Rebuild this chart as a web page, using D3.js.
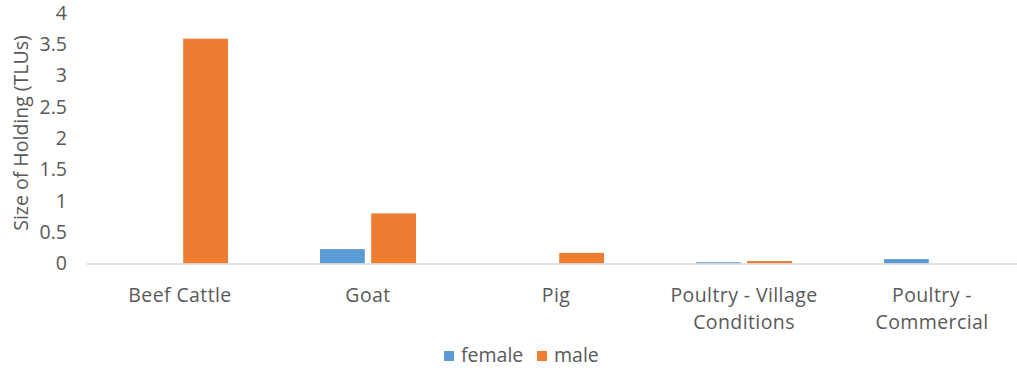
<!DOCTYPE html>
<html>
<head>
<meta charset="utf-8">
<script src="https://cdn.jsdelivr.net/npm/d3@7"></script>
<style>
  html, body { margin: 0; padding: 0; background: #fff; }
  svg { display: block; }
  text { font-family: "Open Sans", sans-serif; fill: #595959; }
</style>
</head>
<body>
<svg id="chart" width="1017" height="370"></svg>
<script>
// Livestock categories and average holding size by sex of the household head
const categories = ["Beef Cattle", "Goat", "Pig", "Poultry - Village Conditions", "Poultry - Commercial"];
const categoryLines = [["Beef Cattle"], ["Goat"], ["Pig"], ["Poultry - Village", "Conditions"], ["Poultry -", "Commercial"]];
const seriesNames = ["female", "male"];
const female = [0, 0.23, 0, 0.02, 0.07];
const male = [3.59, 0.8, 0.17, 0.04, 0];
const yTicks = [0, 0.5, 1, 1.5, 2, 2.5, 3, 3.5, 4];
const colors = ["#5B9BD5", "#ED7D31"];

const svg = d3.select("#chart");
const FONT = 19.5;

const x = d3.scaleBand().domain(categories).range([86, 1026]);
const inner = d3.scaleBand().domain(seriesNames).range([0, 96]).paddingInner(0.125);
const y = d3.scaleLinear().domain([0, 4]).range([263.5, 13]);

// Y axis tick labels
const yAxis = d3.axisLeft(y).tickValues(yTicks).tickSize(0).tickPadding(0)
  .tickFormat(d => String(d));
const gy = svg.append("g").attr("transform", "translate(67,0)").call(yAxis);
gy.select(".domain").remove();
gy.selectAll("text").attr("font-size", FONT).attr("fill", "#595959")
  .style("font-family", "'Open Sans', sans-serif");

// Y axis title
svg.append("text")
  .attr("transform", "translate(28,133) rotate(-90)")
  .attr("text-anchor", "middle")
  .attr("font-size", FONT)
  .text("Size of Holding (TLUs)");

// Bars
const data = categories.map((c, i) => ({ cat: c, vals: [female[i], male[i]] }));
const groups = svg.append("g").selectAll("g").data(data).join("g")
  .attr("transform", d => `translate(${x(d.cat) + x.bandwidth() / 2 - 48},0)`);
groups.selectAll("rect")
  .data(d => d.vals.map((v, j) => ({ name: seriesNames[j], v, j })))
  .join("rect")
  .attr("x", d => inner(d.name))
  .attr("width", inner.bandwidth())
  .attr("y", d => y(d.v))
  .attr("height", d => y(0) - y(d.v))
  .attr("fill", d => colors[d.j]);

// Category axis line
const xAxis = d3.axisBottom(x).tickSize(0).tickFormat("");
const gx = svg.append("g").attr("transform", `translate(0,${y(0)})`).call(xAxis);
gx.select(".domain").attr("stroke", "#d9d9d9").attr("stroke-width", 1.5);

// Category labels (wrapped)
const labels = svg.append("g").selectAll("text").data(categories).join("text")
  .attr("text-anchor", "middle")
  .attr("font-size", FONT)
  .attr("letter-spacing", 0.4)
  .attr("x", d => x(d) + x.bandwidth() / 2)
  .attr("y", 302);
labels.each(function (d, i) {
  const t = d3.select(this);
  categoryLines[i].forEach((line, k) => {
    t.append("tspan").attr("x", x(d) + x.bandwidth() / 2).attr("dy", k === 0 ? 0 : 27).text(line);
  });
});

// Legend
const legend = svg.append("g").attr("transform", "translate(444,0)");
const legendItems = [{ name: "female", dx: 0 }, { name: "male", dx: 93 }];
legendItems.forEach((it, j) => {
  legend.append("rect").attr("x", it.dx).attr("y", 351).attr("width", 10).attr("height", 10)
    .attr("fill", colors[j]);
  legend.append("text").attr("x", it.dx + 17).attr("y", 362).attr("font-size", FONT).text(it.name);
});
</script>
</body>
</html>
